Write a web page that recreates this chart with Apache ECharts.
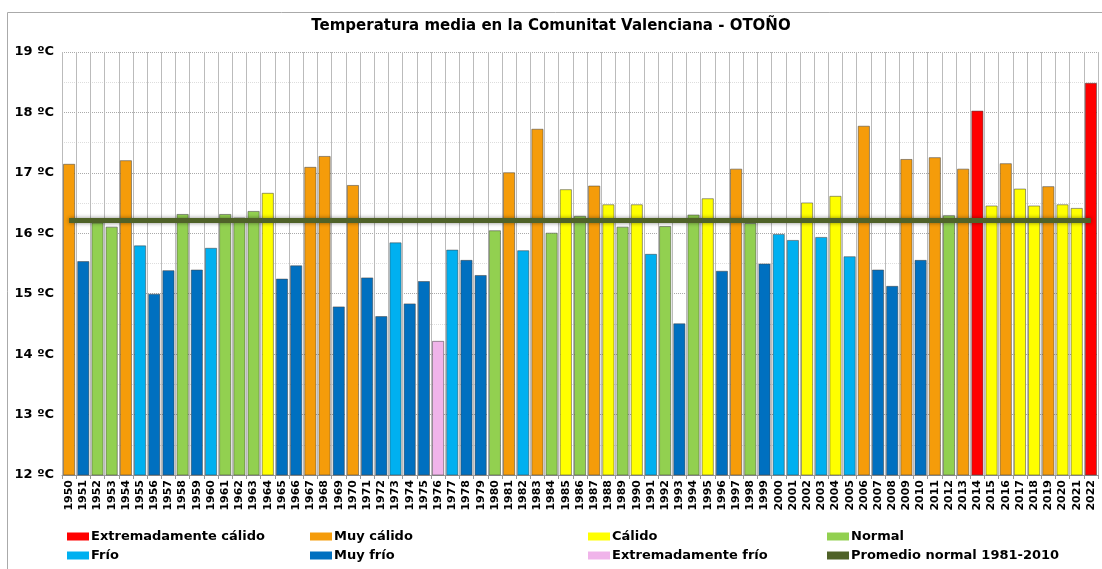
<!DOCTYPE html>
<html>
<head>
<meta charset="utf-8">
<script src="https://cdn.jsdelivr.net/npm/echarts@6/dist/echarts.min.js"></script>
<style>
  html, body { margin: 0; padding: 0; background: #fff; }
  #chart { width: 1102px; height: 569px; }
</style>
</head>
<body>
<div id="chart"></div>
<script>
const years = [
  1950, 1951, 1952, 1953, 1954, 1955, 1956, 1957, 1958, 1959,
  1960, 1961, 1962, 1963, 1964, 1965, 1966, 1967, 1968, 1969,
  1970, 1971, 1972, 1973, 1974, 1975, 1976, 1977, 1978, 1979,
  1980, 1981, 1982, 1983, 1984, 1985, 1986, 1987, 1988, 1989,
  1990, 1991, 1992, 1993, 1994, 1995, 1996, 1997, 1998, 1999,
  2000, 2001, 2002, 2003, 2004, 2005, 2006, 2007, 2008, 2009,
  2010, 2011, 2012, 2013, 2014, 2015, 2016, 2017, 2018, 2019,
  2020, 2021, 2022
]
const temps = [
  17.15, 15.54, 16.18, 16.11, 17.21, 15.80, 15.00, 15.39, 16.32, 15.40,
  15.76, 16.32, 16.26, 16.37, 16.67, 15.25, 15.47, 17.10, 17.28, 14.79,
  16.80, 15.27, 14.63, 15.85, 14.84, 15.21, 14.22, 15.73, 15.56, 15.31,
  16.05, 17.01, 15.72, 17.73, 16.01, 16.73, 16.29, 16.79, 16.48, 16.11,
  16.48, 15.66, 16.12, 14.51, 16.31, 16.58, 15.38, 17.07, 16.17, 15.50,
  15.99, 15.89, 16.51, 15.94, 16.62, 15.62, 17.78, 15.40, 15.13, 17.23,
  15.56, 17.26, 16.30, 17.07, 18.03, 16.46, 17.16, 16.74, 16.46, 16.78,
  16.48, 16.42, 18.49
]
// EC extremadamente calido, MC muy calido, C calido, N normal, F frio, MF muy frio, EF extremadamente frio
const cats = [
  'MC', 'MF', 'N', 'N', 'MC', 'F', 'MF', 'MF', 'N', 'MF',
  'F', 'N', 'N', 'N', 'C', 'MF', 'MF', 'MC', 'MC', 'MF',
  'MC', 'MF', 'MF', 'F', 'MF', 'MF', 'EF', 'F', 'MF', 'MF',
  'N', 'MC', 'F', 'MC', 'N', 'C', 'N', 'MC', 'C', 'N',
  'C', 'F', 'N', 'MF', 'N', 'C', 'MF', 'MC', 'N', 'MF',
  'F', 'F', 'C', 'F', 'C', 'F', 'MC', 'MF', 'MF', 'MC',
  'MF', 'MC', 'N', 'MC', 'EC', 'C', 'MC', 'C', 'C', 'MC',
  'C', 'C', 'EC'
]
const catCodes = ['EC', 'MC', 'C', 'N', 'F', 'MF', 'EF']
const catNames = ['Extremadamente cálido', 'Muy cálido', 'Cálido', 'Normal', 'Frío', 'Muy frío', 'Extremadamente frío']
const catColors = ['#ff0000', '#f59c0a', '#ffff00', '#92d050', '#00b0f0', '#0070c0', '#f0b4ea']
const avgName = 'Promedio normal 1981-2010'
const avgValue = 16.21

const font = 'DejaVu Sans'
const chart = echarts.init(document.getElementById('chart'))

const barSeries = catCodes.map((code, k) => ({
  name: catNames[k],
  type: 'bar',
  barGap: '-100%',
  barCategoryGap: '14%',
  itemStyle: {
    color: catColors[k],
    borderColor: 'rgba(70,70,70,0.55)',
    borderWidth: 1
  },
  data: temps.map((v, i) => (cats[i] === code ? v : '-'))
}))

const legendCol = (left, names) => ({
  orient: 'vertical',
  left: left,
  top: 530,
  height: 40,
  padding: 0,
  icon: 'rect',
  itemWidth: 22,
  itemHeight: 8,
  itemGap: 6,
  itemStyle: { borderWidth: 0 },
  data: names,
  textStyle: { fontFamily: font, fontWeight: 'bold', fontSize: 13, color: '#000', padding: [0, 0, 0, -3] }
})

chart.setOption({
  animation: false,
  title: {
    text: 'Temperatura media en la Comunitat Valenciana - OTOÑO',
    left: 'center',
    top: 14,
    textStyle: { fontFamily: font, fontWeight: 'bold', fontSize: 15, color: '#000' }
  },
  graphic: [{
    type: 'rect',
    shape: { x: 7.5, y: 12.5, width: 1200, height: 700 },
    style: { fill: 'none', stroke: '#aaa', lineWidth: 1 },
    silent: true
  }],
  legend: [
    legendCol(67, [catNames[0], catNames[4]]),
    legendCol(310, [catNames[1], catNames[5]]),
    legendCol(588, [catNames[2], catNames[6]]),
    legendCol(827, [catNames[3], { name: avgName, icon: 'rect', itemStyle: { color: '#4f6228' } }])
  ],
  grid: { left: 62, right: 4, top: 52, bottom: 94 },
  xAxis: {
    type: 'category',
    data: years,
    boundaryGap: true,
    axisLine: { lineStyle: { color: '#999' } },
    axisTick: { show: true, length: 4, lineStyle: { color: '#999' } },
    splitLine: { show: true, lineStyle: { color: '#bbb', width: 1 } },
    axisLabel: {
      interval: 0,
      rotate: 90,
      margin: 5,
      fontFamily: font,
      fontWeight: 'bold',
      fontSize: 11,
      color: '#000'
    }
  },
  yAxis: {
    type: 'value',
    min: 12,
    max: 19,
    interval: 0.5,
    axisLine: { show: false },
    axisTick: { show: false },
    splitLine: { lineStyle: { color: ['#aaa', '#ddd'], type: 'dotted' } },
    axisLabel: {
      margin: 8,
      fontFamily: font,
      fontWeight: 'bold',
      fontSize: 13,
      color: '#000',
      formatter: v => (Number.isInteger(v) ? v + ' ºC' : '')
    }
  },
  series: [
    ...barSeries,
    {
      name: avgName,
      type: 'line',
      data: [],
      symbol: 'none',
      itemStyle: { color: '#4f6228' },
      lineStyle: { color: '#4f6228', width: 3 },
      markLine: {
        silent: true,
        symbol: 'none',
        label: { show: false },
        lineStyle: {
          color: '#4f6228',
          width: 5,
          type: 'solid',
          shadowBlur: 4,
          shadowColor: 'rgba(0,0,0,0.45)'
        },
        data: [[{ coord: ['1950', avgValue] }, { coord: ['2022', avgValue] }]]
      }
    }
  ]
})
</script>
</body>
</html>
